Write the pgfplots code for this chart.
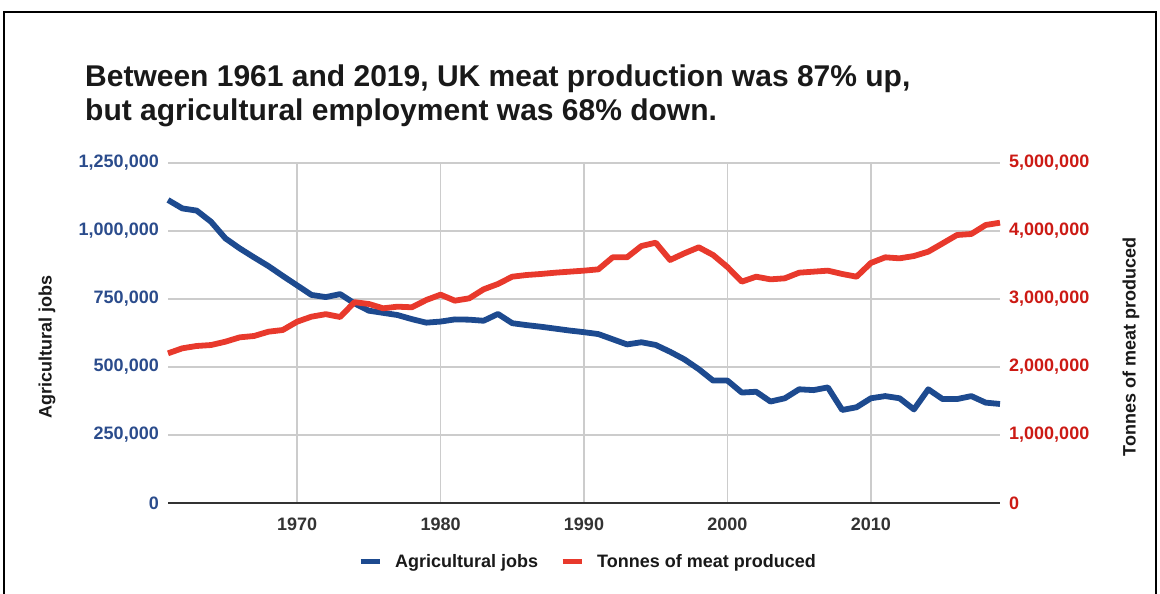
\documentclass[border=0pt]{standalone}
\usepackage{pgfplots}
\pgfplotsset{compat=1.18}
\usepackage{pgfplotstable}
\usepackage{fontspec}
\setmainfont{Liberation Sans}
\definecolor{jobblue}{HTML}{1D4A8F}
\definecolor{meatred}{HTML}{E8392C}
\definecolor{labblue}{HTML}{2B4C8C}
\definecolor{labred}{HTML}{CC1A14}
\definecolor{gridgray}{HTML}{CCCCCC}
\definecolor{axisdark}{HTML}{333333}
\newcommand\lab{\fontsize{18}{18}\selectfont\bfseries}

\pgfplotstableread{
year jobs
1961 1114000
1962 1083000
1963 1075000
1964 1034000
1965 973000
1966 936000
1967 903000
1968 871000
1969 835000
1970 800000
1971 765000
1972 757000
1973 768000
1974 734000
1975 707000
1976 699000
1977 691000
1978 676000
1979 663000
1980 667000
1981 675000
1982 674000
1983 670000
1984 695000
1985 661000
1986 654000
1987 648000
1988 641000
1989 634000
1990 628000
1991 621000
1992 602000
1993 583000
1994 591000
1995 581000
1996 556000
1997 528000
1998 492000
1999 450000
2000 450000
2001 406000
2002 409000
2003 373000
2004 385000
2005 418000
2006 415000
2007 425000
2008 342000
2009 352000
2010 385000
2011 393000
2012 385000
2013 344000
2014 418000
2015 382000
2016 382000
2017 393000
2018 369000
2019 364000
}\jobstable

\pgfplotstableread{
year meat
1961 2201000
1962 2275000
1963 2309000
1964 2323000
1965 2372000
1966 2436000
1967 2456000
1968 2519000
1969 2544000
1970 2666000
1971 2740000
1972 2777000
1973 2735000
1974 2953000
1975 2927000
1976 2863000
1977 2887000
1978 2878000
1979 2985000
1980 3064000
1981 2975000
1982 3010000
1983 3142000
1984 3221000
1985 3328000
1986 3353000
1987 3368000
1988 3387000
1989 3402000
1990 3417000
1991 3436000
1992 3613000
1993 3613000
1994 3779000
1995 3828000
1996 3574000
1997 3672000
1998 3760000
1999 3647000
2000 3470000
2001 3255000
2002 3328000
2003 3289000
2004 3304000
2005 3387000
2006 3402000
2007 3417000
2008 3368000
2009 3328000
2010 3530000
2011 3613000
2012 3598000
2013 3632000
2014 3696000
2015 3818000
2016 3941000
2017 3956000
2018 4088000
2019 4122000
}\meattable

\begin{document}
\begin{tikzpicture}[x=1pt,y=1pt]
\useasboundingbox (0,0) rectangle (1160,594);
\draw[black, line width=2pt] (4,-10) -- (4,582) -- (1156,582) -- (1156,-10);
\node[anchor=base west, inner sep=0pt, font=\fontsize{30}{30}\selectfont\bfseries, text=black!90] at (85,507) {Between 1961 and 2019, UK meat production was 87\% up,};
\node[anchor=base west, inner sep=0pt, font=\fontsize{30}{30}\selectfont\bfseries, text=black!90] at (85,473) {but agricultural employment was 68\% down.};

\begin{axis}[
  at={(168pt,91pt)}, anchor=south west, scale only axis,
  width=832pt, height=340pt,
  xmin=1961, xmax=2019, ymin=0, ymax=1250000,
  xtick={1970,1980,1990,2000,2010},
  xticklabels={1970,1980,1990,2000,2010},
  ytick={0,250000,500000,750000,1000000,1250000},
  yticklabels={0,{250,000},{500,000},{750,000},{1,000,000},{1,250,000}},
  scaled y ticks=false, scaled x ticks=false,
  axis line style={draw=none}, major tick length=0pt, tick style={draw=none},
  grid=major, grid style={draw=gridgray, line width=1.3pt},
  ticklabel style={font=\lab},
  xticklabel style={text=axisdark, anchor=north, inner sep=0pt, yshift=-15pt},
  yticklabel style={text=labblue, anchor=east, inner sep=0pt, xshift=-9pt},
  ylabel={Agricultural jobs},
  ylabel style={font=\lab, text=black!90, at={(axis description cs:-0.1454,0.459)}, anchor=center},
  clip=false,
]
\draw[axisdark, line width=1.6pt] (axis cs:1961,0) -- (axis cs:2019,0);
\addplot[jobblue, line width=5.8pt, line join=round, no markers] table[x=year, y=jobs] {\jobstable};
\end{axis}

\begin{axis}[
  at={(168pt,91pt)}, anchor=south west, scale only axis,
  width=832pt, height=340pt,
  xmin=1961, xmax=2019, ymin=0, ymax=5000000,
  hide x axis,
  axis y line*=right,
  ytick={0,1000000,2000000,3000000,4000000,5000000},
  yticklabels={0,{1,000,000},{2,000,000},{3,000,000},{4,000,000},{5,000,000}},
  scaled y ticks=false,
  axis line style={draw=none}, major tick length=0pt, tick style={draw=none},
  yticklabel style={font=\lab, text=labred, anchor=west, inner sep=0pt, xshift=9pt},
  ylabel={Tonnes of meat produced},
  ylabel style={font=\lab, text=black!90, at={(axis description cs:1.1575,0.459)}, anchor=center},
  clip=false,
  legend columns=2,
  legend style={at={(axis description cs:0.5036,-0.1735)}, anchor=center, draw=none, fill=none,
    font=\lab, text=black!90, inner sep=0pt,
    nodes={inner sep=0pt},
    /tikz/every odd column/.append style={column sep=13pt},
    /tikz/every even column/.append style={column sep=22pt}},
  legend image code/.code={\draw[#1, line width=5pt] (0pt,0pt) -- (19pt,0pt);},
]
\addlegendimage{jobblue}
\addlegendentry{Agricultural jobs}
\addplot[meatred, line width=5.8pt, line join=round, no markers] table[x=year, y=meat] {\meattable};
\addlegendentry{Tonnes of meat produced}
\end{axis}
\end{tikzpicture}
\end{document}
